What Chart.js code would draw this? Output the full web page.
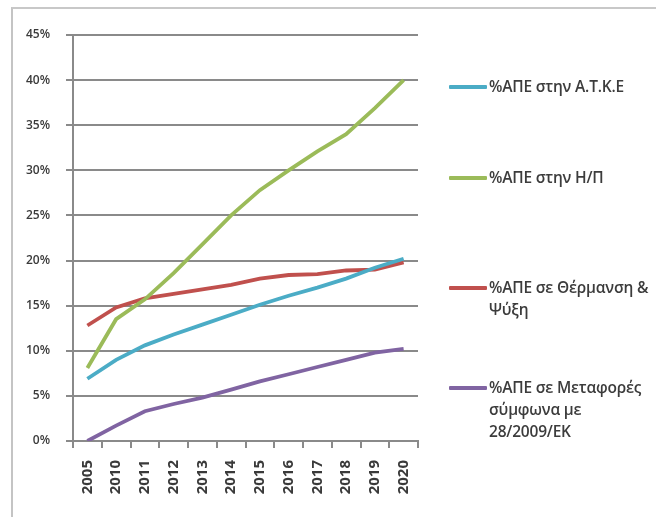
<!DOCTYPE html>
<html>
<head>
<meta charset="utf-8">
<script src="https://cdn.jsdelivr.net/npm/chart.js@4"></script>
<style>
  html, body { margin: 0; padding: 0; background: #fff; }
  #wrap { position: relative; width: 656px; height: 517px; overflow: hidden; }
  #frame { position: absolute; left: 11px; top: 7px; width: 660px; height: 520px;
           border-left: 2px solid #c4c4c4; border-top: 2px solid #c8c8c8; }
  canvas { position: absolute; left: 0; top: 0; }
  #legend { position: absolute; left: 449px; top: 0; width: 207px;
            font-family: "Open Sans", "Liberation Sans", sans-serif; font-weight: 600;
            font-size: 15.5px; letter-spacing: -0.2px; color: #3c3c3c; }
  .item { position: absolute; left: 0; display: flex; align-items: flex-start; }
  .swatch { width: 38px; height: 4px; margin-top: 10px; flex: none; border-radius: 1px; }
  .txt { margin-left: 2px; line-height: 22px; white-space: pre; }
</style>
</head>
<body>
<div id="wrap">
  <div id="frame"></div>
  <canvas id="c" width="656" height="517"></canvas>
  <div id="legend"></div>
</div>
<script>
const years = ['2005','2010','2011','2012','2013','2014','2015','2016','2017','2018','2019','2020'];
const yTicks = [0, 5, 10, 15, 20, 25, 30, 35, 40, 45];

const resAtke      = [6.9, 9.0, 10.6, 11.8, 12.9, 14.0, 15.1, 16.1, 17.0, 18.0, 19.2, 20.2];
const resPower     = [8.1, 13.5, 15.7, 18.6, 21.8, 25.0, 27.8, 30.0, 32.1, 34.0, 36.9, 40.0];
const resHeating   = [12.8, 14.8, 15.8, 16.3, 16.8, 17.3, 18.0, 18.4, 18.5, 18.9, 19.0, 19.8];
const resTransport = [0.0, 1.7, 3.3, 4.1, 4.8, 5.7, 6.6, 7.4, 8.2, 9.0, 9.8, 10.2];

// Series names, with the line breaks used in the legend
const seriesNames = [
  '%ΑΠΕ στην Α.Τ.Κ.Ε',
  '%ΑΠΕ στην Η/Π',
  '%ΑΠΕ σε Θέρμανση &\nΨύξη',
  '%ΑΠΕ σε Μεταφορές\nσύμφωνα με\n28/2009/ΕΚ'
];
const seriesColors = ['#4BACC6', '#9BBB59', '#C0504D', '#8064A2'];
const seriesValues = [resAtke, resPower, resHeating, resTransport];

const gridGray = '#8a8a8a';
const tickFont = { family: '"Open Sans", "Liberation Sans", sans-serif', size: 12, weight: '600' };

const chart = new Chart(document.getElementById('c'), {
  type: 'line',
  data: {
    labels: years,
    datasets: seriesValues.map((vals, i) => ({
      label: seriesNames[i],
      data: vals,
      borderColor: seriesColors[i],
      backgroundColor: seriesColors[i],
      borderWidth: 3.8,
      pointRadius: 0,
      tension: 0,
      fill: false
    }))
  },
  options: {
    responsive: false,
    animation: false,
    events: [],
    layout: { padding: { left: 0, top: 35, right: 238, bottom: 0 } },
    plugins: { legend: { display: false }, tooltip: { enabled: false } },
    scales: {
      x: {
        type: 'category',
        offset: true,
        grid: { display: true, offset: true, drawOnChartArea: false, drawTicks: true,
                tickLength: 7, color: gridGray, lineWidth: 2 },
        border: { display: true, color: gridGray, width: 2 },
        ticks: { minRotation: 90, maxRotation: 90, autoSkip: false, padding: 12,
                 color: '#3a3a3a', font: { ...tickFont, size: 15, weight: '700' } },
        afterFit: (s) => { s.height = 76; }
      },
      y: {
        min: 0, max: 45,
        afterBuildTicks: (s) => { s.ticks = yTicks.map(v => ({ value: v })); },
        grid: { color: gridGray, lineWidth: 2, tickLength: 7, drawTicks: true },
        border: { display: true, color: gridGray, width: 2 },
        ticks: { padding: 16, color: '#3a3a3a', font: tickFont,
                 callback: (v) => v + '%' },
        afterFit: (s) => { s.width = 73; }
      }
    }
  }
});

// Legend beside the plot, one entry per series
const legendTops = [75, 166, 276, 376];
const legend = document.getElementById('legend');
chart.data.datasets.forEach((ds, i) => {
  const item = document.createElement('div');
  item.className = 'item';
  item.style.top = legendTops[i] + 'px';
  const sw = document.createElement('div');
  sw.className = 'swatch';
  sw.style.background = ds.borderColor;
  const tx = document.createElement('div');
  tx.className = 'txt';
  tx.textContent = ds.label;
  item.appendChild(sw);
  item.appendChild(tx);
  legend.appendChild(item);
});
</script>
</body>
</html>
